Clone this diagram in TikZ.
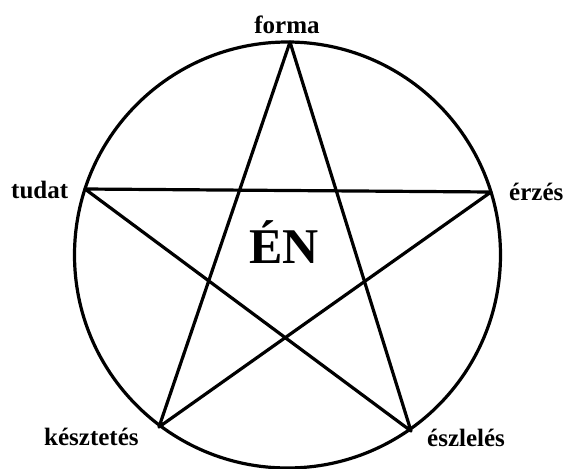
\documentclass[tikz,border=0pt]{standalone}
\usepackage{fontspec}
\setmainfont{Liberation Serif}
\begin{document}
\begin{tikzpicture}[x=1pt,y=-1pt,
  lbl/.style={inner sep=0pt,font=\fontsize{25}{29}\selectfont\bfseries},
  big/.style={inner sep=0pt,font=\fontsize{50}{58}\selectfont\bfseries},
  ln/.style={line width=3.2pt,line join=round,line cap=round}]
\useasboundingbox (0,0) rectangle (563,469);
\coordinate (F) at (290,42);
\coordinate (T) at (85,189);
\coordinate (E) at (491,192);
\coordinate (K) at (159,427);
\coordinate (S) at (411,431);
\coordinate (C) at (287.5,255);
\draw[ln] (C) circle[radius=213pt];
\draw[ln] (F) -- (K) -- (E) -- (T) -- (S) -- cycle;
\node[lbl,anchor=base] (lf) at (287,33) {forma};
\node[lbl,anchor=base west] (lt) at (11,198) {tudat};
\node[lbl,anchor=base west] (le) at (509,200) {érzés};
\node[lbl,anchor=base west] (lk) at (44,445) {késztetés};
\node[lbl,anchor=base west] (ls) at (427,446) {észlelés};
\node[big,anchor=base west] (en) at (249,263) {ÉN};
\end{tikzpicture}
\end{document}
